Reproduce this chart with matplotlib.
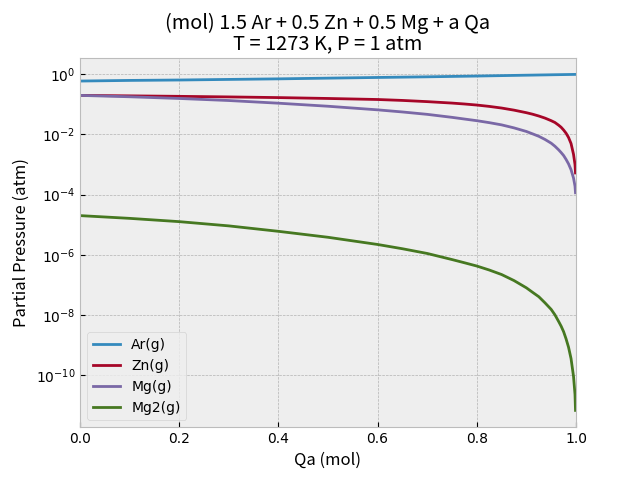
import matplotlib
matplotlib.use("Agg")
import matplotlib.pyplot as plt

# Qa added (mol) and partial pressures (atm)
qa = [0.0, 0.1, 0.2, 0.3, 0.4, 0.5, 0.6, 0.65, 0.7, 0.75, 0.775, 0.8, 0.825,
      0.85, 0.875, 0.9, 0.9125, 0.925, 0.9375, 0.95, 0.9575, 0.965, 0.97,
      0.975, 0.98, 0.985, 0.99, 0.995, 0.998, 0.999]
p_ar = [0.60, 0.63, 0.65, 0.68, 0.71, 0.75, 0.79, 0.81, 0.83, 0.855, 0.867,
        0.88, 0.895, 0.91, 0.925, 0.94, 0.947, 0.955, 0.962, 0.97, 0.975,
        0.979, 0.982, 0.985, 0.988, 0.991, 0.994, 0.997, 0.998, 0.999]
p_zn = [0.200, 0.193, 0.186, 0.178, 0.169, 0.158, 0.146, 0.136, 0.124, 0.111,
        0.1035, 0.0955, 0.0861, 0.0759, 0.0646, 0.0531, 0.0473, 0.0412,
        0.0351, 0.0288, 0.0251, 0.0204, 0.0174, 0.0141, 0.0110, 0.00794,
        0.00501, 0.00219, 0.00100, 0.000525]
p_mg = [0.200, 0.180, 0.158, 0.135, 0.110, 0.0871, 0.0661, 0.0562, 0.0468,
        0.0372, 0.0327, 0.0288, 0.0248, 0.0209, 0.0166, 0.0126, 0.0105,
        0.00871, 0.00684, 0.00513, 0.00407, 0.00309, 0.00251, 0.00200,
        0.00148, 0.00105, 0.000676, 0.000355, 0.000191, 0.000115]
p_mg2 = [2.00e-5, 1.62e-5, 1.26e-5, 9.1e-6, 6.0e-6, 3.8e-6, 2.19e-6, 1.58e-6,
         1.10e-6, 6.9e-7, 5.4e-7, 4.2e-7, 3.1e-7, 2.19e-7, 1.38e-7, 7.9e-8,
         5.6e-8, 4.0e-8, 2.5e-8, 1.51e-8, 1.0e-8, 6.0e-9, 4.2e-9, 2.75e-9,
         1.58e-9, 8.3e-10, 3.5e-10, 8.9e-11, 2.24e-11, 6.6e-12]

series = [("Ar(g)", p_ar), ("Zn(g)", p_zn), ("Mg(g)", p_mg), ("Mg2(g)", p_mg2)]

plt.style.use("bmh")
jp = ["Noto Sans CJK JP", "DejaVu Sans"]

fig, ax = plt.subplots(figsize=(6.4, 4.8), dpi=100)
for name, p in series:
    ax.plot(qa, p, label=name)

ax.set_yscale("log")
ax.set_xlim(0, 1)
ax.set_title("(mol) 1.5 Ar + 0.5 Zn + 0.5 Mg + a Qa\nT = 1273 K, P = 1 atm",
             family=jp, linespacing=0.95)
ax.set_xlabel("Qa (mol)", family=jp)
ax.set_ylabel("Partial Pressure (atm)", family=jp)
ax.legend(loc="lower left")

fig.savefig("out.png", dpi=100)
